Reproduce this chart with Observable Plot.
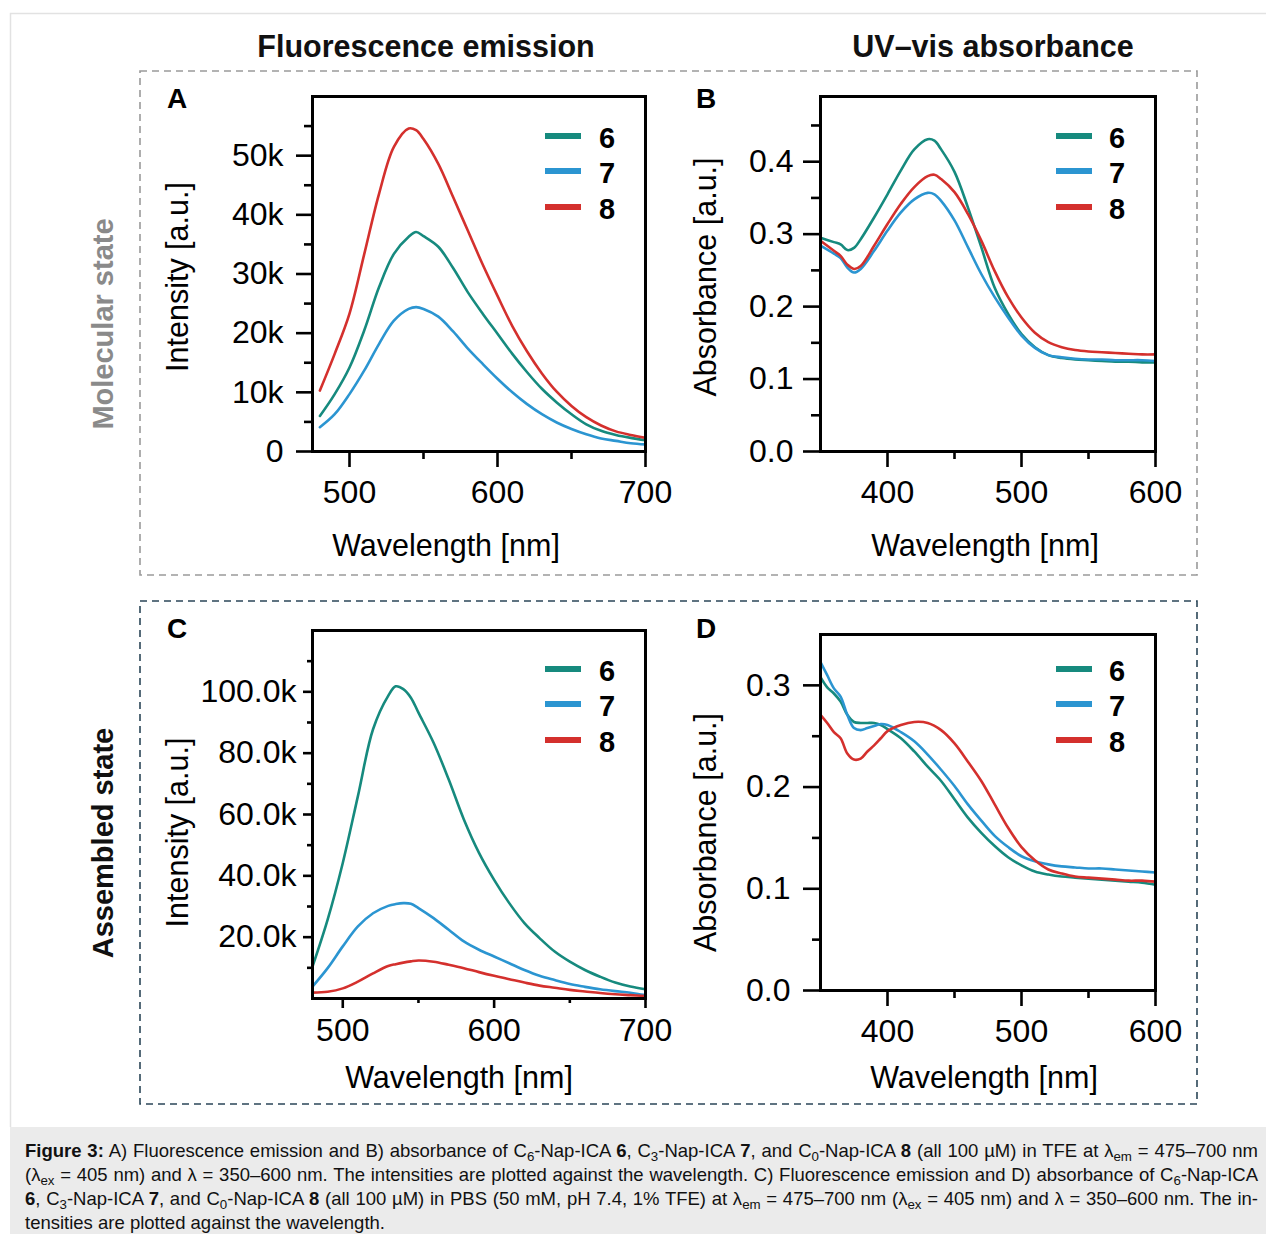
<!DOCTYPE html>
<html><head><meta charset="utf-8">
<script src="https://cdn.jsdelivr.net/npm/d3@7"></script>
<script src="https://cdn.jsdelivr.net/npm/@observablehq/plot@0.6"></script>
<style>
body{margin:0;background:#fff;font-family:"Liberation Sans",Arial,sans-serif;}
#page{position:relative;width:1266px;height:1234px;overflow:hidden;background:#fff;}
.abs{position:absolute;}
.head{font-size:30.5px;font-weight:bold;text-align:center;width:500px;line-height:30px;color:#111;}
.letter{font-size:28px;font-weight:bold;width:40px;text-align:center;line-height:30px;color:#000;}
.row{font-size:29px;font-weight:bold;width:320px;height:34px;line-height:34px;text-align:center;transform:rotate(-90deg);}
.sw{height:6px;width:36px;}
.num{font-size:29px;font-weight:bold;width:30px;text-align:center;line-height:30px;}
#cap{left:25px;top:1139px;width:1233px;font-size:18.5px;line-height:24px;color:#111;}
#cap div{text-align:justify;text-align-last:justify;}
#cap div.last{text-align-last:left;}
sub{font-size:0.72em;vertical-align:-0.28em;line-height:0;}
.plot{position:absolute;}
</style></head>
<body><div id="page">
<svg class="abs" style="left:0;top:0" width="1266" height="1234">
  <path d="M10.5,1127 V13.5 H1266" fill="none" stroke="#e2e2e2" stroke-width="1.5"/>
  <rect x="140" y="71" width="1057" height="504" fill="none" stroke="#9a9a9a" stroke-width="1.6" stroke-dasharray="7,5"/>
  <rect x="140" y="601" width="1057" height="503" fill="none" stroke="#2b4658" stroke-width="1.6" stroke-dasharray="7,5"/>
</svg>
<div class="abs" style="left:10px;top:1127px;width:1256px;height:107px;background:#ebebeb;"></div>
<div class="abs head" style="left:176px;top:31px;">Fluorescence emission</div>
<div class="abs head" style="left:743px;top:31px;">UV–vis absorbance</div>
<div class="abs row" style="left:-57px;top:307px;color:#8a8a8a;">Molecular state</div>
<div class="abs row" style="left:-57px;top:826px;color:#111;">Assembled state</div>
<div class="abs letter" style="left:157px;top:84px;">A</div>
<div class="abs letter" style="left:686px;top:84px;">B</div>
<div class="abs letter" style="left:157px;top:614px;">C</div>
<div class="abs letter" style="left:686px;top:614px;">D</div>
<div id="legends"></div>
<div id="plots"></div>
<div id="cap" class="abs">
<div><b>Figure 3:</b> A) Fluorescence emission and B) absorbance of C<sub>6</sub>-Nap-ICA <b>6</b>, C<sub>3</sub>-Nap-ICA <b>7</b>, and C<sub>0</sub>-Nap-ICA <b>8</b> (all 100 µM) in TFE at λ<sub>em</sub> = 475–700 nm</div>
<div>(λ<sub>ex</sub> = 405 nm) and λ = 350–600 nm. The intensities are plotted against the wavelength. C) Fluorescence emission and D) absorbance of C<sub>6</sub>-Nap-ICA</div>
<div><b>6</b>, C<sub>3</sub>-Nap-ICA <b>7</b>, and C<sub>0</sub>-Nap-ICA <b>8</b> (all 100 µM) in PBS (50 mM, pH 7.4, 1% TFE) at λ<sub>em</sub> = 475–700 nm (λ<sub>ex</sub> = 405 nm) and λ = 350–600 nm. The in-</div>
<div class="last">tensities are plotted against the wavelength.</div>
</div>
</div>
<script>
// ---- series names & colours
const names = ["6", "7", "8"];
const colors = ["#168a7e", "#2b95d1", "#d4302d"];

// ---- Panel A: fluorescence emission, molecular state (TFE)
const wlA = [480,490,500,510,520,530,540,545,550,560,570,580,590,600,610,620,630,640,650,660,670,680,690,700];
const a6 = [6000,9700,14200,20500,27800,33400,36300,37100,36400,34600,31000,26900,23300,19900,16500,13400,10600,8300,6300,4600,3500,2800,2300,1900];
const a7 = [4100,6300,9700,13700,18200,22100,24100,24400,24100,22800,20300,17400,14800,12300,10000,8000,6300,4900,3800,2900,2200,1800,1400,1200];
const a8 = [10300,16500,23300,33400,43600,51500,54600,54300,52800,48600,43000,37300,31600,26300,21200,16900,13200,10100,7700,5800,4400,3400,2800,2300];
const aTicks = [0,10000,20000,30000,40000,50000];
const aTickLabels = ["0","10k","20k","30k","40k","50k"];
const aMinor = [5000,15000,25000,35000,45000,55000];

// ---- Panel B: UV-vis absorbance, molecular state
const wlB = [350,360,365,370,375,380,390,400,410,420,430,435,440,450,460,470,480,490,500,510,520,530,540,550,560,570,580,590,600];
const b6 = [0.295,0.289,0.286,0.278,0.281,0.293,0.323,0.355,0.388,0.417,0.431,0.429,0.417,0.386,0.337,0.282,0.226,0.190,0.162,0.144,0.133,0.129,0.127,0.126,0.125,0.124,0.124,0.123,0.123];
const b7 = [0.284,0.273,0.267,0.254,0.247,0.252,0.277,0.305,0.330,0.348,0.357,0.355,0.346,0.319,0.282,0.245,0.213,0.185,0.160,0.143,0.133,0.130,0.128,0.127,0.127,0.126,0.126,0.126,0.125];
const b8 = [0.291,0.277,0.270,0.258,0.252,0.256,0.284,0.314,0.342,0.365,0.380,0.382,0.376,0.358,0.328,0.291,0.249,0.213,0.185,0.164,0.151,0.144,0.140,0.138,0.137,0.136,0.135,0.134,0.134];
const bTicks = [0,0.1,0.2,0.3,0.4];
const bTickLabels = ["0.0","0.1","0.2","0.3","0.4"];
const bMinor = [0.05,0.15,0.25,0.35,0.45];

// ---- Panel C: fluorescence emission, assembled state (PBS)
const wlC = [480,490,500,510,520,530,535,540,545,550,560,570,580,590,600,610,620,630,640,650,660,670,680,690,700];
const c6 = [10400,25700,44200,66000,87800,98700,101800,100900,98100,93200,83400,71400,58400,47500,38700,31100,24600,19700,15300,12000,9300,7100,5200,3900,3000];
const c7 = [3900,9900,17000,23500,27800,30200,30800,31100,30900,29500,26200,22400,18600,15900,13700,11500,9300,7400,6000,4700,3800,3000,2400,1900,1100];
const c8 = [1900,2200,3300,5500,8200,10600,11200,11700,12100,12400,12000,11000,9900,8600,7400,6300,5200,4200,3500,2800,2300,1800,1400,1100,800];
const cTicks = [20000,40000,60000,80000,100000];
const cTickLabels = ["20.0k","40.0k","60.0k","80.0k","100.0k"];
const cMinor = [10000,30000,50000,70000,90000,110000];

// ---- Panel D: UV-vis absorbance, assembled state
const wlD = [350,355,360,365,370,375,380,385,390,395,400,410,420,430,440,450,460,470,480,490,500,510,520,530,540,550,560,570,580,590,600];
const d6 = [0.308,0.298,0.292,0.284,0.271,0.264,0.263,0.263,0.263,0.261,0.257,0.248,0.235,0.220,0.206,0.188,0.170,0.155,0.142,0.131,0.123,0.117,0.114,0.112,0.111,0.110,0.109,0.108,0.107,0.106,0.104];
const d7 = [0.323,0.310,0.297,0.289,0.271,0.258,0.256,0.258,0.260,0.262,0.261,0.254,0.245,0.232,0.217,0.201,0.183,0.167,0.152,0.141,0.132,0.127,0.124,0.122,0.121,0.120,0.120,0.119,0.118,0.117,0.116];
const d8 = [0.271,0.263,0.254,0.248,0.233,0.227,0.228,0.235,0.241,0.248,0.255,0.261,0.264,0.263,0.256,0.243,0.225,0.206,0.183,0.160,0.141,0.128,0.119,0.115,0.112,0.111,0.110,0.109,0.108,0.108,0.107];
const dTicks = [0,0.1,0.2,0.3];
const dTickLabels = ["0.0","0.1","0.2","0.3"];
const dMinor = [0.05,0.15,0.25];

const fluoX = [500,600,700], fluoXMinor = [550,650];
const absX = [400,500,600], absXMinor = [450,550];

const FONT = "'Liberation Sans', Arial, Helvetica, sans-serif";

function table(wl, seriesArr) {
  return seriesArr.flatMap((vals, si) => wl.map((w, i) => ({wl: w, v: vals[i], s: names[si]})));
}

function panel(o) {
  const data = table(o.wl, o.series);
  const plot = Plot.plot({
    width: o.width, height: o.height,
    marginLeft: o.ml, marginRight: o.mr, marginTop: o.mt, marginBottom: o.mb,
    style: {fontFamily: FONT, background: "transparent", color: "#000", overflow: "visible"},
    x: {domain: o.xDomain, label: null},
    y: {domain: o.yDomain, label: null},
    color: {domain: names, range: colors},
    marks: [
      Plot.axisX({ticks: o.xMinor, tickSize: o.minX, fill: "none", strokeWidth: 2.6}),
      Plot.axisX({ticks: o.xMajor, tickSize: o.majX, tickPadding: o.xPad, fontSize: 32, strokeWidth: 2.6, tickFormat: d => String(d)}),
      Plot.axisY({ticks: o.yMinor, tickSize: o.minY, fill: "none", strokeWidth: 2.6}),
      Plot.axisY({ticks: o.yMajor, tickSize: o.majY, tickPadding: o.yPad, fontSize: 32, strokeWidth: 2.6,
                  tickFormat: d => o.yLabels[o.yMajor.indexOf(d)]}),
      Plot.line(data, {x: "wl", y: "v", z: "s", stroke: "s", strokeWidth: 2.6, curve: "catmull-rom"}),
      Plot.frame({strokeWidth: 3, stroke: "#000"}),
      Plot.text([o.xLabel], {frameAnchor: "bottom", textAnchor: "middle", lineAnchor: "middle", dx: o.xLdx, dy: o.xLdy, fontSize: 30.5, fill: "#000"}),
      Plot.text([o.yLabel], {frameAnchor: "left", textAnchor: "middle", lineAnchor: "middle", rotate: -90, dx: o.yLdx, dy: o.yLdy, fontSize: 30.5, fill: "#000"})
    ]
  });
  plot.classList.add("plot");
  plot.style.left = o.left + "px";
  plot.style.top = o.top + "px";
  document.getElementById("plots").appendChild(plot);
}

// Panel A
panel({left: 150, top: 80, width: 540, height: 490, ml: 162, mr: 45, mt: 16, mb: 119,
  wl: wlA, series: [a6, a7, a8], xDomain: [475, 700], yDomain: [0, 60000],
  xMajor: fluoX, xMinor: fluoXMinor, yMajor: aTicks, yLabels: aTickLabels, yMinor: aMinor,
  majX: 16, minX: 8, majY: 16, minY: 8, xPad: 13, yPad: 13,
  xLabel: "Wavelength [nm]", yLabel: "Intensity [a.u.]", xLdx: -33, xLdy: 95, yLdx: -134, yLdy: 3});
// Panel B
panel({left: 680, top: 80, width: 510, height: 490, ml: 140, mr: 35, mt: 16, mb: 119,
  wl: wlB, series: [b6, b7, b8], xDomain: [350, 600], yDomain: [0, 0.49],
  xMajor: absX, xMinor: absXMinor, yMajor: bTicks, yLabels: bTickLabels, yMinor: bMinor,
  majX: 16, minX: 8, majY: 17, minY: 9, xPad: 13, yPad: 10,
  xLabel: "Wavelength [nm]", yLabel: "Absorbance [a.u.]", xLdx: -3, xLdy: 95, yLdx: -114, yLdy: 3});
// Panel C
panel({left: 150, top: 615, width: 540, height: 485, ml: 162, mr: 45, mt: 15, mb: 102,
  wl: wlC, series: [c6, c7, c8], xDomain: [480, 700], yDomain: [0, 120000],
  xMajor: fluoX, xMinor: fluoXMinor, yMajor: cTicks, yLabels: cTickLabels, yMinor: cMinor,
  majX: 10, minX: 5, majY: 9, minY: 5, xPad: 10, yPad: 7,
  xLabel: "Wavelength [nm]", yLabel: "Intensity [a.u.]", xLdx: -20, xLdy: 80, yLdx: -134, yLdy: 18});
// Panel D
panel({left: 680, top: 615, width: 510, height: 485, ml: 140, mr: 35, mt: 19, mb: 110,
  wl: wlD, series: [d6, d7, d8], xDomain: [350, 600], yDomain: [0, 0.35],
  xMajor: absX, xMinor: absXMinor, yMajor: dTicks, yLabels: dTickLabels, yMinor: dMinor,
  majX: 16, minX: 8, majY: 17, minY: 8, xPad: 13, yPad: 13,
  xLabel: "Wavelength [nm]", yLabel: "Absorbance [a.u.]", xLdx: -4, xLdy: 88, yLdx: -114, yLdy: 20});

// ---- legends (HTML, outside the SVGs)
function legend(swX, numX, ys) {
  const host = document.getElementById("legends");
  names.forEach((n, i) => {
    const sw = document.createElement("div");
    sw.className = "abs sw";
    sw.style.left = swX + "px"; sw.style.top = (ys[i] - 3) + "px"; sw.style.background = colors[i];
    host.appendChild(sw);
    const t = document.createElement("div");
    t.className = "abs num";
    t.textContent = n;
    t.style.left = (numX - 15) + "px"; t.style.top = (ys[i] + 2 - 15) + "px";
    host.appendChild(t);
  });
}
legend(545, 607, [136, 171, 207]);
legend(1056, 1117, [136, 171, 207]);
legend(545, 607, [669, 704, 740]);
legend(1056, 1117, [669, 704, 740]);
</script>
</body></html>
